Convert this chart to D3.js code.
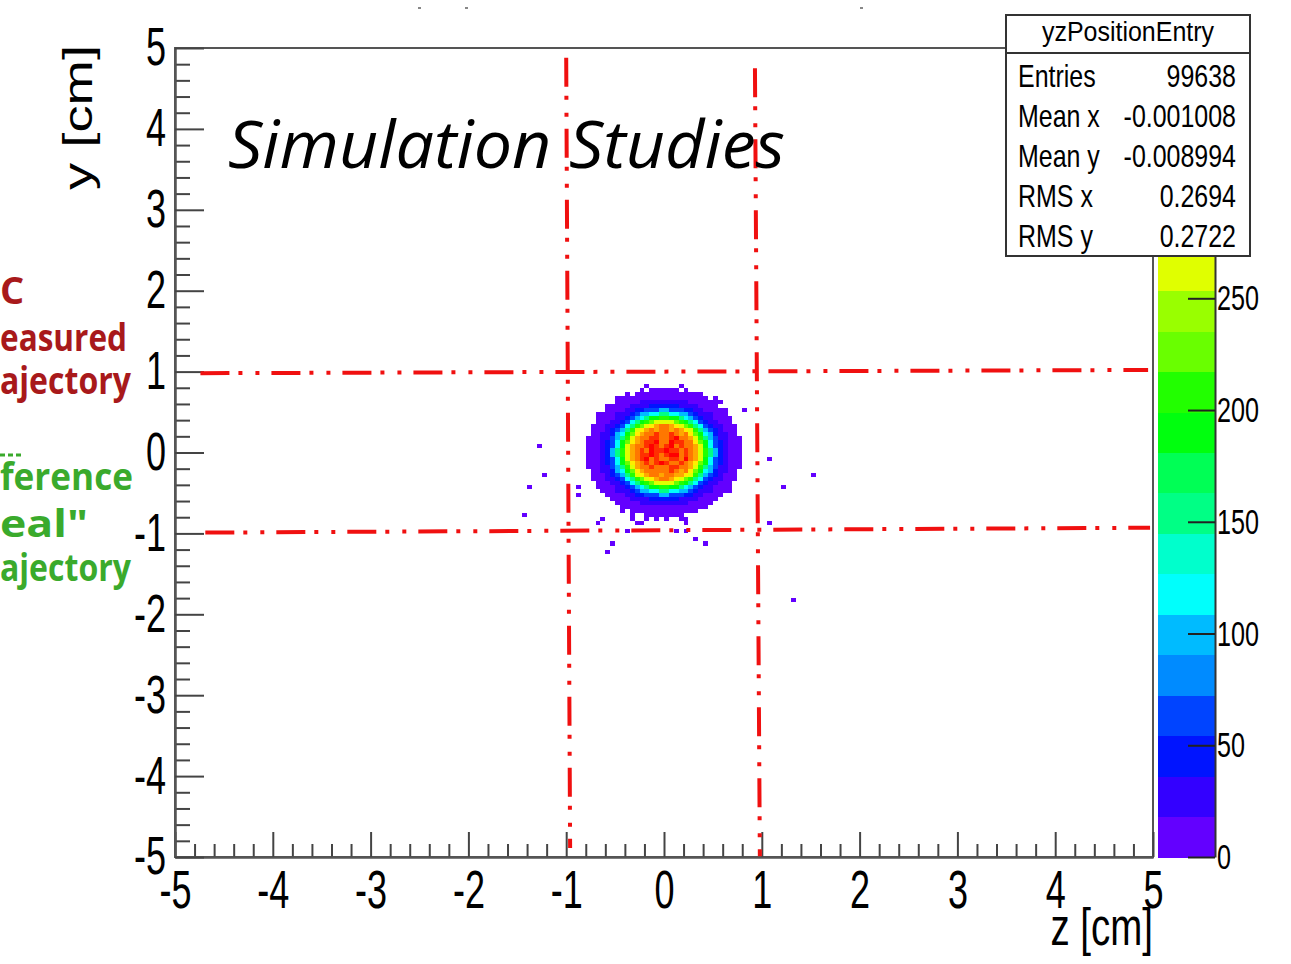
<!DOCTYPE html>
<html>
<head>
<meta charset="utf-8">
<script src="https://cdn.jsdelivr.net/npm/d3@7"></script>
<style>
  html, body { margin: 0; padding: 0; background: #fff; overflow: hidden; }
  svg { display: block; }
</style>
</head>
<body>
<svg id="chart" width="1291" height="964"></svg>
<script>
// ---- axis ticks and labels ----
const zMajorTicks = [-5, -4, -3, -2, -1, 0, 1, 2, 3, 4, 5];
const yMajorTicks = [-5, -4, -3, -2, -1, 0, 1, 2, 3, 4, 5];
const paletteTicks = [0, 50, 100, 150, 200, 250, 300, 350];
const paletteLabelled = [0, 50, 100, 150, 200, 250];

// ---- histogram: yz entry position, 0.05 cm bins ----
const zMax = 362;          // top of the colour palette
const nContours = 20;      // number of colour levels
const binWidth = 0.05;     // cm
const gridLeft = -0.85;    // z of the first column's low edge
const gridTop = 0.85;      // y of the first row's high edge
// one character per bin: '.' empty, 0-9 / a-j = contour level 0..19
const gridRows = [
  ".............0......0.............",
  "............0.000000.0............",
  ".........0.00000000000000.........",
  ".......0000000000000000000.0......",
  ".......0000011111111110000000.....",
  ".....00000111122222211110000......",
  ".....0000112233355333221100000....",
  "...000011123556688665532111000....",
  "...00001123568aabbaa86532110000...",
  "...000112368abceeeecba863211000...",
  "..000112368bcefghhgfecb863211000..",
  "..00012358befghghhghgfeb85321000..",
  "..0011256acfghhihhihghfca6521100..",
  ".00011358beghhiihhijhhgeb85311000.",
  ".0001236acfghiijhhjiihhfca6321000.",
  ".0001236aeghhijihijhihhgea6321000.",
  ".0001258beghihjiijiihihgeb8521000.",
  ".0001258beghiijihijjhihgeb8521000.",
  ".0001236aeghijhihhiihjhgea6321000.",
  ".0001236acfghihijihhihgfca6321000.",
  ".00011358beghhihhhiihhgeb85311000.",
  "..0011256acfghhhhhihghfca6521100..",
  "..00012358befghhghhggfeb85321000..",
  "..000112368bcefghhgfecb863211000..",
  "...000112368abceeeecba863211000...",
  "...00001123568aabbaa86532110000...",
  "....000111235566886655321110000...",
  ".....000011223335533322110000.....",
  "......0000111122222211110000......",
  ".......00000111111111100000.......",
  "........000000000000000000........",
  "........0.00000000000000..........",
  "..........0..00000000.............",
  "..........0..0.0.0..00............"
];
// isolated entries outside the core: [z, y, counts]
const strayBins = [
  [-1.28, 0.09, 4], [-1.22, -0.30, 4], [-1.36, -0.41, 4], [-1.42, -0.76, 4],
  [-0.87, -0.41, 4], [-0.87, -0.55, 4], [-0.63, -0.81, 4], [-0.68, -0.89, 4],
  [-0.37, -0.99, 4], [-0.52, -1.15, 4], [-0.57, -1.24, 4], [0.11, -1.00, 4],
  [0.23, -1.00, 4], [0.32, -1.10, 4], [0.42, -1.15, 4], [1.05, -0.07, 4],
  [1.22, -0.42, 4], [1.51, -0.30, 4], [1.05, -0.86, 4], [1.32, -1.81, 4],
  [0.82, 0.52, 4], [-0.30, -0.88, 4], [-0.22, -0.88, 4], [0.20, -0.87, 4]
];

// ---- acceptance window lines [z0, y0, z1, y1] ----
const windowLines = [
  [-1.00, 4.88, -0.96, -4.89],
  [0.93, 4.75, 0.98, -4.99],
  [-4.74, 0.98, 4.95, 1.02],
  [-4.69, -0.99, 4.97, -0.93]
];

// ---- statistics box ----
const statsTitle = "yzPositionEntry";
const statsLabels = ["Entries", "Mean x", "Mean y", "RMS x", "RMS y"];
const statsValues = ["99638", "-0.001008", "-0.008994", "0.2694", "0.2722"];

// ---- slide annotations ----
const plotNote = "Simulation Studies";
const redNotes = ["C", "easured", "ajectory"];
const greenNotes = ["ference", "eal\"", "ajectory"];

const svg = d3.select("#chart");
const rootFont = "'Liberation Sans', Arial, Helvetica, sans-serif";
const slideFont = "'Open Sans', 'Noto Sans', sans-serif";
const plainInt = d => String(d);   // hyphen-minus, as ROOT prints it

const x = d3.scaleLinear().domain([-5, 5]).range([175, 1153]);
const y = d3.scaleLinear().domain([-5, 5]).range([857, 48]);
const zc = d3.scaleLinear().domain([0, zMax]).range([857, 48]);

// ROOT "pretty" palette: 50 hues from violet to red, sampled at 20 contours
function levelColor(level) {
  const idx = Math.floor((level + 0.99) * 50 / nContours);
  const hue = 280 - (idx + 1) * 5.6;
  return d3.hsl(hue, 1, 0.5).formatHex();
}
function valueColor(v) {
  const level = Math.max(0, Math.min(nContours - 1, Math.floor(v / (zMax / nContours))));
  return levelColor(level);
}

// ---- build bins ----
const bins = [];
gridRows.forEach((row, r) => {
  [...row].forEach((ch, c) => {
    if (ch === ".") return;
    const level = parseInt(ch, 36);
    bins.push({ z0: gridLeft + c * binWidth, y1: gridTop - r * binWidth, v: (level + 0.5) * zMax / nContours });
  });
});
strayBins.forEach(([z, yy, v]) => {
  const z0 = Math.floor(z / binWidth) * binWidth;
  const y0 = Math.floor(yy / binWidth) * binWidth;
  bins.push({ z0, y1: y0 + binWidth, v });
});

svg.append("g").attr("class", "bins")
  .selectAll("rect").data(bins).join("rect")
  .attr("x", d => Math.round(x(d.z0)))
  .attr("y", d => Math.round(y(d.y1)))
  .attr("width", d => Math.round(x(d.z0 + binWidth)) - Math.round(x(d.z0)))
  .attr("height", d => Math.round(y(d.y1 - binWidth)) - Math.round(y(d.y1)))
  .attr("fill", d => valueColor(d.v))
  .attr("shape-rendering", "crispEdges");

// ---- frame ----
svg.append("path")
  .attr("d", `M${x(-5)},${y(-5)}V${y(5)}H${x(5)}V${y(-5)}Z`)
  .attr("fill", "none").attr("stroke", "#555").attr("stroke-width", 2);

// ---- axes ----
const zMinor = d3.range(-50, 51, 2).map(v => v / 10).filter(v => !zMajorTicks.includes(v));
const yMinor = zMinor.slice();

function styleAxis(g) {
  g.select(".domain").attr("stroke", "#555").attr("stroke-width", 2);
  g.selectAll(".tick line").attr("stroke", "#444").attr("stroke-width", 2);
}

const xAxisMinor = svg.append("g").attr("transform", `translate(0,${y(-5)})`)
  .call(d3.axisBottom(x).tickValues(zMinor).tickSizeInner(-13).tickSizeOuter(0).tickFormat(""));
styleAxis(xAxisMinor);
const xAxis = svg.append("g").attr("transform", `translate(0,${y(-5)})`)
  .call(d3.axisBottom(x).tickValues(zMajorTicks).tickSizeInner(-25).tickSizeOuter(0).tickPadding(13)
    .tickFormat(plainInt));
styleAxis(xAxis);
xAxis.selectAll(".tick text")
  .attr("font-family", rootFont).attr("font-size", 53).attr("fill", "#000")
  .attr("transform", "scale(0.68,1)");

const yAxisMinor = svg.append("g").attr("transform", `translate(${x(-5)},0)`)
  .call(d3.axisLeft(y).tickValues(yMinor).tickSizeInner(-15).tickSizeOuter(0).tickFormat(""));
styleAxis(yAxisMinor);
const yAxis = svg.append("g").attr("transform", `translate(${x(-5)},0)`)
  .call(d3.axisLeft(y).tickValues(yMajorTicks).tickSizeInner(-29).tickSizeOuter(0).tickPadding(13)
    .tickFormat(plainInt));
styleAxis(yAxis);
yAxis.selectAll(".tick text")
  .attr("font-family", rootFont).attr("font-size", 53).attr("fill", "#000")
  .attr("transform", "scale(0.68,1)");

// axis titles
svg.append("text")
  .attr("transform", `translate(1153,945) scale(0.74,1)`)
  .attr("text-anchor", "end").attr("font-family", rootFont).attr("font-size", 52)
  .text("z [cm]");
svg.append("text")
  .attr("transform", `translate(92,190) scale(0.75,1) rotate(-90)`)
  .attr("text-anchor", "start").attr("font-family", rootFont).attr("font-size", 54)
  .attr("textLength", 145).attr("lengthAdjust", "spacingAndGlyphs")
  .text("y [cm]");

// ---- colour palette ----
const palLeft = 1158, palRight = 1215;
const levels = d3.range(nContours);
svg.append("g").selectAll("rect").data(levels).join("rect")
  .attr("x", palLeft).attr("width", palRight - palLeft)
  .attr("y", k => zc((k + 1) * zMax / nContours))
  .attr("height", k => zc(k * zMax / nContours) - zc((k + 1) * zMax / nContours) + 0.5)
  .attr("fill", k => levelColor(k))
  .attr("shape-rendering", "crispEdges");

const palAxis = svg.append("g").attr("transform", `translate(${palRight},0)`)
  .call(d3.axisRight(zc).tickValues(paletteTicks).tickSizeInner(-27).tickSizeOuter(0).tickPadding(3)
    .tickFormat(d => paletteLabelled.includes(d) ? String(d) : ""));
palAxis.select(".domain").attr("stroke", "#333").attr("stroke-width", 2);
palAxis.selectAll(".tick line").attr("stroke", "#222").attr("stroke-width", 2);
palAxis.selectAll(".tick text")
  .attr("font-family", rootFont).attr("font-size", 36).attr("fill", "#000")
  .attr("transform", "scale(0.7,1)");

// ---- acceptance window ----
svg.append("g").selectAll("line").data(windowLines).join("line")
  .attr("x1", d => x(d[0])).attr("y1", d => y(d[1]))
  .attr("x2", d => x(d[2])).attr("y2", d => y(d[3]))
  .attr("stroke", "#f01010").attr("stroke-width", 4)
  .attr("stroke-dasharray", "29,9,4,13,4,12");

// ---- statistics box ----
const box = svg.append("g");
box.append("rect").attr("x", 1006).attr("y", 15).attr("width", 244).attr("height", 241)
  .attr("fill", "#fff").attr("stroke", "#333").attr("stroke-width", 2);
box.append("line").attr("x1", 1006).attr("x2", 1250).attr("y1", 53).attr("y2", 53)
  .attr("stroke", "#333").attr("stroke-width", 2);
box.append("text")
  .attr("x", 1128).attr("y", 41).attr("text-anchor", "middle")
  .attr("font-family", rootFont).attr("font-size", 27)
  .attr("textLength", 172).attr("lengthAdjust", "spacingAndGlyphs")
  .text(statsTitle);
statsLabels.forEach((lab, i) => {
  const by = 87 + i * 40;
  box.append("text").attr("transform", `translate(1018,${by}) scale(0.78,1)`)
    .attr("font-family", rootFont).attr("font-size", 32).text(lab);
  box.append("text").attr("transform", `translate(1236,${by}) scale(0.78,1)`)
    .attr("text-anchor", "end").attr("font-family", rootFont).attr("font-size", 32).text(statsValues[i]);
});

// ---- slide annotations ----
svg.append("text")
  .attr("x", 228).attr("y", 168)
  .attr("font-family", slideFont).attr("font-style", "italic").attr("font-size", 66)
  .attr("textLength", 557).attr("lengthAdjust", "spacingAndGlyphs")
  .text(plotNote);

const redY = [304, 351, 394];
const redW = [null, 127, 131];
redNotes.forEach((t, i) => {
  const el = svg.append("text").attr("x", 0).attr("y", redY[i])
    .attr("font-family", slideFont).attr("font-weight", 700).attr("font-size", 38)
    .attr("fill", "#a8191b")
    .text(t);
  if (redW[i]) el.attr("textLength", redW[i]).attr("lengthAdjust", "spacingAndGlyphs");
});
const greenY = [490, 537, 581];
const greenW = [133, 88, 131];
greenNotes.forEach((t, i) => {
  svg.append("text").attr("x", 0).attr("y", greenY[i])
    .attr("font-family", slideFont).attr("font-weight", 700).attr("font-size", 38)
    .attr("fill", "#3aaa2c")
    .attr("textLength", greenW[i]).attr("lengthAdjust", "spacingAndGlyphs")
    .text(t);
});
svg.append("line").attr("x1", 0).attr("x2", 23).attr("y1", 455).attr("y2", 455)
  .attr("stroke", "#3aaa2c").attr("stroke-width", 3).attr("stroke-dasharray", "5,3");

// small marks left at the top edge
svg.append("g").selectAll("rect").data([418, 465, 860]).join("rect")
  .attr("x", d => d).attr("y", 7).attr("width", 3).attr("height", 2).attr("fill", "#888");
</script>
</body>
</html>
